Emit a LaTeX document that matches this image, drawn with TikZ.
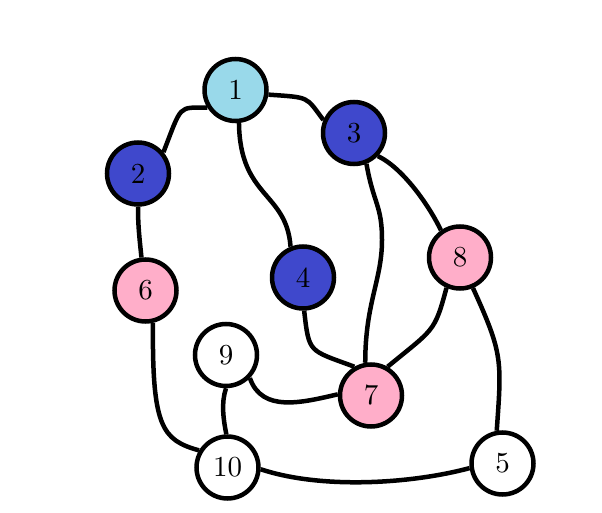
\documentclass[tikz,border=0pt]{standalone}
\usepackage{fontspec}
\newfontfamily\lmten{lmroman10-regular.otf}
\definecolor{lightblue}{RGB}{153,217,234}
\definecolor{indigo}{RGB}{63,72,204}
\definecolor{rose}{RGB}{255,174,201}
\begin{document}
\begin{tikzpicture}[x=1pt,y=1pt,
  vtx/.style={circle,draw=black,line width=4.5pt,minimum size=62pt,inner sep=0pt,
    font=\lmten\fontsize{29}{32}\selectfont,text=black},
  edge/.style={draw=black,line width=4.5pt}]
\fill[white] (0,0) rectangle (602,512);
\useasboundingbox (0,0) rectangle (602,512);
\node[vtx,fill=lightblue] (n1) at (235.5,422) {1};
\node[vtx,fill=indigo] (n2) at (138,338.5) {2};
\node[vtx,fill=indigo] (n3) at (354,379) {3};
\node[vtx,fill=indigo] (n4) at (303,234.5) {4};
\node[vtx,fill=white] (n5) at (502.5,48.5) {5};
\node[vtx,fill=rose] (n6) at (145.5,221.5) {6};
\node[vtx,fill=rose] (n7) at (371,116.5) {7};
\node[vtx,fill=rose] (n8) at (460,254.5) {8};
\node[vtx,fill=white] (n9) at (226,157) {9};
\node[vtx,fill=white] (n10) at (227.5,44.5) {10};
\coordinate (c37) at (382,272);
\draw[edge] (n1.212) .. controls +(-29.6,0) and +(18.6,48) .. (n2.40);
\draw[edge] (n1.-8) .. controls +(42,-3) and +(-18,24) .. (n3.157);
\draw[edge] (n1.-84) .. controls +(1,-75) and +(-4,55) .. (n4.112);
\draw[edge] (n2.-90) .. controls +(0,-20) and +(-2,20) .. (n6.97);
\draw[edge] (n3.-68) .. controls +(7,-40) and +(0,35) .. (c37) .. controls +(0,-40) and +(0,60) .. (n7.100);
\draw[edge] (n3.-44) .. controls +(25,-12) and +(-12,25) .. (n8.125);
\draw[edge] (n4.-88) .. controls +(5,-43) and +(-46,17) .. (n7.120);
\draw[edge] (n8.246) .. controls +(-12,-45) and +(46,38) .. (n7.60);
\draw[edge] (n8.-67) .. controls +(30,-66) and +(5,71) .. (n5.100);
\draw[edge] (n6.-77) .. controls (152,85) and (162,72) .. (n10.149);
\draw[edge] (n9.-90) .. controls +(-5,-15) and +(-3,15) .. (n10.92);
\draw[edge] (n9.-44) .. controls +(12,-35) and +(-35,-8) .. (n7.178);
\draw[edge] (n10.-3) .. controls +(60,-20) and +(-60,-16) .. (n5.188);
\end{tikzpicture}
\end{document}
